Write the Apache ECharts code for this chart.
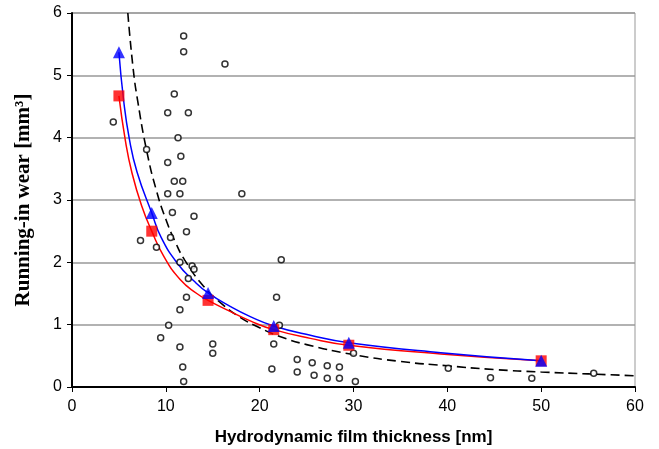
<!DOCTYPE html>
<html><head><meta charset="utf-8">
<script src="https://cdn.jsdelivr.net/npm/echarts@6/dist/echarts.min.js"></script>
<style>html,body{margin:0;padding:0;background:#fff}#c{width:659px;height:449px}</style>
</head><body><div id="c"></div>
<script>
// Scatter of measured points [film thickness nm, running-in wear mm3]
const scatterX = [11.9,11.9,16.3,10.9,10.2,12.4,4.4,11.3,7.95,11.6,10.2,10.9,11.8,10.2,11.5,18.1,
  10.7,13.0,12.2,10.5,7.3,9.0,11.5,12.8,13.0,12.4,12.2,11.5,10.3,9.45,15.0,11.5,15.0,11.8,11.9,
  22.3,21.8,22.1,21.5,21.3,24.0,24.0,25.6,25.8,27.2,27.2,28.5,28.5,30.0,30.2,40.1,44.6,49.0,55.6];
const scatterY = [5.63,5.38,5.18,4.70,4.40,4.40,4.25,4.00,3.81,3.70,3.60,3.30,3.30,3.10,3.10,3.10,
  2.80,2.74,2.49,2.40,2.35,2.24,2.00,1.94,1.89,1.74,1.44,1.24,0.99,0.79,0.69,0.64,0.54,0.32,0.09,
  2.04,1.44,0.99,0.69,0.29,0.44,0.24,0.39,0.19,0.34,0.14,0.32,0.14,0.54,0.09,0.30,0.15,0.14,0.22];
// Model points (markers)
const modelX = [5, 8.5, 14.5, 21.5, 29.5, 50];
const redY = [4.67, 2.50, 1.39, 0.92, 0.67, 0.42];
const blueY = [5.37, 2.79, 1.51, 0.98, 0.71, 0.42];
// Smoothed model curves
const redCurveX = [5, 5.68, 6.4, 7.46, 8.5, 9.77, 11.55, 13.3, 14.5, 16.9, 19.0, 21.5, 25.4, 29.5, 39.3, 50];
const redCurveY = [4.67, 3.96, 3.43, 2.89, 2.50, 2.10, 1.72, 1.50, 1.39, 1.21, 1.06, 0.92, 0.78, 0.67, 0.53, 0.42];
const blueCurveX = [5, 5.5, 6.11, 6.93, 8.5, 9.5, 11.2, 13.0, 14.5, 16.9, 19.0, 21.5, 25.4, 29.5, 39.3, 50];
const blueCurveY = [5.37, 4.60, 3.98, 3.45, 2.79, 2.40, 1.99, 1.70, 1.51, 1.29, 1.13, 0.98, 0.83, 0.71, 0.55, 0.42];
// Dashed fit curve
const fitX = [5.95,6.5,7,8,9,10,11,12,14,16,18,20,22,25,30,35,40,45,50,55,60];
const fitY = [6.0,5.13,4.59,3.76,3.15,2.69,2.33,2.04,1.62,1.33,1.11,0.95,0.82,0.68,0.52,0.41,0.34,0.28,0.24,0.21,0.18];
const xTicks = [0,10,20,30,40,50,60];
const yTicks = [0,1,2,3,4,5,6];

const zip = (a,b)=>a.map((v,i)=>[v,b[i]]);
const chart = echarts.init(document.getElementById('c'));
chart.setOption({
  animation:false,
  grid:{left:72,right:24,top:13,bottom:62,show:true,borderColor:'#999',borderWidth:1,
    containLabel:false,outerBoundsMode:'none'},
  xAxis:{type:'value',min:xTicks[0],max:xTicks[xTicks.length-1],interval:10,
    name:'Hydrodynamic film thickness [nm]',nameLocation:'middle',nameGap:42,
    nameTextStyle:{fontFamily:'Liberation Sans',fontWeight:'bold',fontSize:17,color:'#000'},
    axisLine:{lineStyle:{color:'#000',width:2}},
    axisTick:{show:true,length:5,lineStyle:{color:'#000'}},
    axisLabel:{fontFamily:'Liberation Sans',fontSize:16,color:'#000',margin:12},
    splitLine:{show:false}},
  yAxis:{type:'value',min:yTicks[0],max:yTicks[yTicks.length-1],interval:1,
    name:'Running-in wear [mm³]',nameLocation:'middle',nameGap:38,
    nameTextStyle:{fontFamily:'Liberation Serif',fontWeight:'bold',fontSize:21,color:'#000'},
    axisLine:{lineStyle:{color:'#000',width:2}},
    axisTick:{show:true,length:5,lineStyle:{color:'#000'}},
    axisLabel:{fontFamily:'Liberation Sans',fontSize:16,color:'#000',margin:10},
    splitLine:{show:true,lineStyle:{color:'#999',width:1.5}}},
  series:[
    {type:'line',data:zip(fitX,fitY),showSymbol:false,symbol:'none',smooth:true,
     lineStyle:{color:'#000',width:1.6,type:[9,5]},z:2},
    {type:'line',data:zip(redCurveX,redCurveY),smooth:true,symbol:'none',
     lineStyle:{color:'#ff0000',width:1.5},z:3},
    {type:'line',data:zip(blueCurveX,blueCurveY),smooth:true,symbol:'none',
     lineStyle:{color:'#0000ff',width:1.5},z:4},
    {type:'scatter',data:zip(scatterX,scatterY),symbol:'circle',symbolSize:6,
     itemStyle:{color:'#fff',borderColor:'#000',borderWidth:1.5},z:5},
    {type:'scatter',data:zip(modelX,redY),symbol:'rect',symbolSize:11,
     itemStyle:{color:'#ff0000'},z:6},
    {type:'scatter',data:zip(modelX,blueY),symbol:'triangle',symbolSize:12,
     itemStyle:{color:'#0000ff'},z:7}
  ]
});
</script></body></html>
